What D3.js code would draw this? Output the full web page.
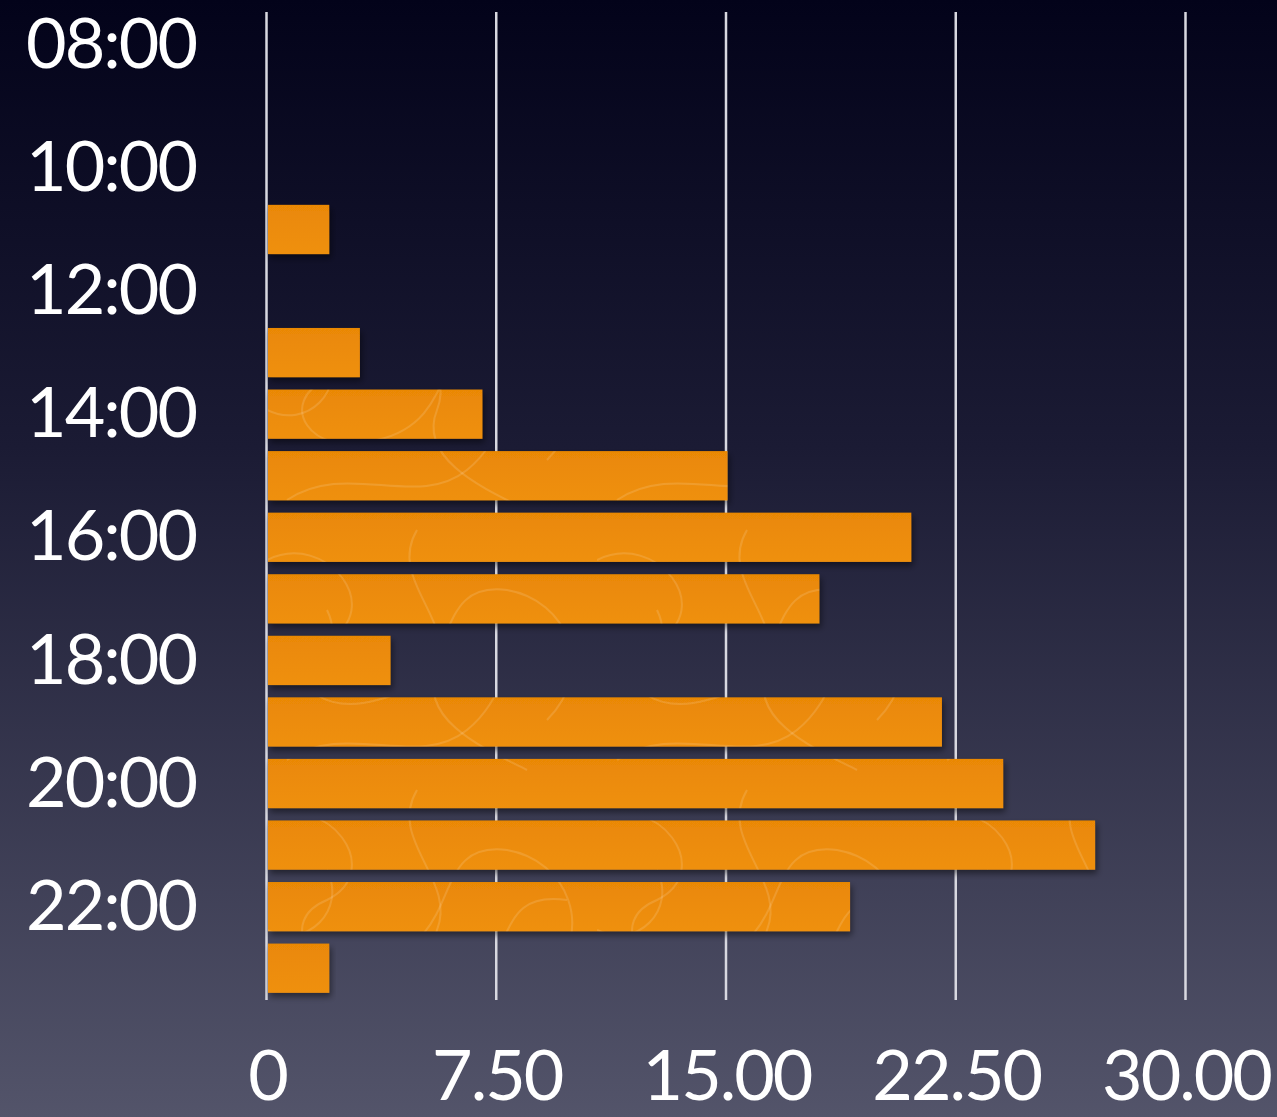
<!DOCTYPE html>
<html><head><meta charset="utf-8">
<script src="https://cdn.jsdelivr.net/npm/d3@7"></script>
<style>html,body{margin:0;padding:0;overflow:hidden;background:#1a1a2e}</style>
</head><body>
<script>
const hours = ["08:00","09:00","10:00","11:00","12:00","13:00","14:00","15:00","16:00","17:00","18:00","19:00","20:00","21:00","22:00","23:00"];
const values = [0,0,0,2,0,3,7,15,21,18,4,22,24,27,19,2];
const yTickLabels = ["08:00","10:00","12:00","14:00","16:00","18:00","20:00","22:00"];
const xTicks = [0,7.5,15,22.5,30];
const xTickLabels = ["0","7.50","15.00","22.50","30.00"];

const W = 1277, H = 1117;
const svg = d3.select("body").append("svg").attr("width", W).attr("height", H);
const defs = svg.append("defs");
const bg = defs.append("linearGradient").attr("id","bg").attr("x1",0).attr("y1",0).attr("x2",0).attr("y2",1);
bg.append("stop").attr("offset","0%").attr("stop-color","#03031a");
bg.append("stop").attr("offset","40%").attr("stop-color","#1b1b34");
bg.append("stop").attr("offset","100%").attr("stop-color","#53546a");
svg.append("rect").attr("width",W).attr("height",H).attr("fill","url(#bg)");

const bar = defs.append("linearGradient").attr("id","bar").attr("x1",0).attr("y1",0).attr("x2",0).attr("y2",1);
bar.append("stop").attr("offset","0%").attr("stop-color","#ea8806");
bar.append("stop").attr("offset","100%").attr("stop-color","#ef900c");
const f = defs.append("filter").attr("id","sh").attr("x","-5%").attr("y","-20%").attr("width","115%").attr("height","160%");
f.append("feDropShadow").attr("dx",2).attr("dy",4).attr("stdDeviation",3).attr("flood-color","#000").attr("flood-opacity",0.45);

// faint decorative swirl texture on bars
const pat = defs.append("pattern").attr("id","swirl").attr("patternUnits","userSpaceOnUse")
  .attr("x",267).attr("y",0).attr("width",330).attr("height",260);
const swirls = [
  "M0,40 C60,10 120,90 60,120 C10,140 40,200 110,180 C200,160 160,60 240,70 C300,80 330,150 280,200",
  "M20,240 C80,200 150,250 200,210 C250,170 230,110 300,120",
  "M150,10 C120,60 190,100 170,150 C150,200 220,230 260,250",
  "M0,150 C40,170 80,130 60,90"
];
pat.selectAll("path").data(swirls).join("path").attr("d",d=>d)
  .attr("fill","none").attr("stroke","#ffffff").attr("stroke-opacity",0.13).attr("stroke-width",2);

const x = d3.scaleLinear().domain([0,30]).range([267,1186]);
const y = d3.scaleBand().domain(hours).range([14,999]).paddingInner(0.2).paddingOuter(0.1);

// gridlines
svg.append("g").selectAll("line").data(xTicks).join("line")
  .attr("x1",d=>x(d)-0.5).attr("x2",d=>x(d)-0.5).attr("y1",12).attr("y2",1000)
  .attr("stroke","#d8d8e0").attr("stroke-width",2.5);

// bars
const barData = hours.map((h,i)=>({h,v:values[i]})).filter(d=>d.v>0);
const gb = svg.append("g");
gb.selectAll("rect.b").data(barData).join("rect").attr("class","b")
  .attr("x",x(0)+1).attr("y",d=>y(d.h)).attr("width",d=>x(d.v)-x(0)).attr("height",y.bandwidth())
  .attr("fill","url(#bar)").attr("filter","url(#sh)");
gb.selectAll("rect.t").data(barData.filter(d=>d.v>5)).join("rect").attr("class","t")
  .attr("x",x(0)+1).attr("y",d=>y(d.h)).attr("width",d=>x(d.v)-x(0)).attr("height",y.bandwidth())
  .attr("fill","url(#swirl)");

const font = "Lato, 'Open Sans', sans-serif";
// y labels
const yAxis = d3.axisLeft(y).tickValues(yTickLabels).tickSize(0).tickPadding(0);
const gy = svg.append("g").attr("transform","translate(196,-2)").call(yAxis);
gy.select(".domain").remove();
gy.selectAll("text").attr("fill","#fff").attr("font-family",font).attr("font-size",70)
  .attr("dy","0.36em").style("letter-spacing","-2px");

// x labels
const xAxis = d3.axisBottom(x).tickValues(xTicks).tickFormat((d,i)=>xTickLabels[i]).tickSize(0).tickPadding(0);
const gx = svg.append("g").attr("transform","translate(0,1050)").call(xAxis);
gx.select(".domain").remove();
gx.selectAll("text").attr("fill","#fff").attr("font-family",font).attr("font-size",70)
  .attr("dy","0.71em").attr("y",0).style("letter-spacing","-2px");
</script>
</body></html>
